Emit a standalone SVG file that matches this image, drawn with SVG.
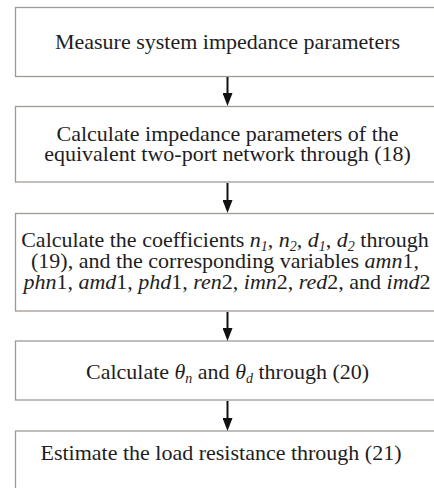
<svg xmlns="http://www.w3.org/2000/svg" width="434" height="488" viewBox="0 0 434 488">
<style>
.box{fill:#fff;stroke:#9e9a96;stroke-width:1.3}
.t{font-family:'Liberation Serif','Times New Roman','DejaVu Serif',serif;font-size:22px;fill:#1e1e1e;text-anchor:middle}
.i{font-style:italic}
.s{font-size:14px;font-style:italic}
.arrow{stroke:#111;stroke-width:2;fill:none;marker-end:url(#ah)}
</style>
<defs>
<marker id="ah" markerUnits="userSpaceOnUse" viewBox="0 0 13 10" markerWidth="13" markerHeight="10" refX="7" refY="5" orient="auto">
<path d="M0,0 L13,5 L0,10 Z" fill="#111"/>
</marker>
</defs>
<rect width="434" height="488" fill="#fff"/>
<g id="n1">
<rect class="box" x="15.5" y="7.5" width="426" height="69"/>
<text class="t" font-family="Liberation Serif, serif" x="227.5" y="49">Measure system impedance parameters</text>
</g>
<g id="n2">
<rect class="box" x="15.5" y="106.5" width="426" height="75.5"/>
<text class="t" font-family="Liberation Serif, serif" x="227.5" y="141">Calculate impedance parameters of the</text>
<text class="t" font-family="Liberation Serif, serif" x="227.5" y="161">equivalent two-port network through (18)</text>
</g>
<g id="n3">
<rect class="box" x="15.5" y="213.5" width="426" height="97.5"/>
<text class="t" font-family="Liberation Serif, serif" x="225" y="247">Calculate the coefficients <tspan class="i">n</tspan><tspan class="s" dy="4">1</tspan><tspan dy="-4">, </tspan><tspan class="i">n</tspan><tspan class="s" dy="4">2</tspan><tspan dy="-4">, </tspan><tspan class="i">d</tspan><tspan class="s" dy="4">1</tspan><tspan dy="-4">, </tspan><tspan class="i">d</tspan><tspan class="s" dy="4">2</tspan><tspan dy="-4"> through</tspan></text>
<text class="t" font-family="Liberation Serif, serif" x="225" y="268">(19), and the corresponding variables <tspan class="i">amn</tspan>1,</text>
<text class="t" font-family="Liberation Serif, serif" x="227" y="289"><tspan class="i">phn</tspan>1, <tspan class="i">amd</tspan>1, <tspan class="i">phd</tspan>1, <tspan class="i">ren</tspan>2, <tspan class="i">imn</tspan>2, <tspan class="i">red</tspan>2, and <tspan class="i">imd</tspan>2</text>
</g>
<g id="n4">
<rect class="box" x="15.5" y="341" width="426" height="59"/>
<text class="t" font-family="Liberation Serif, serif" x="227.5" y="379">Calculate <tspan class="i">θ</tspan><tspan class="s" dy="4">n</tspan><tspan dy="-4"> and </tspan><tspan class="i">θ</tspan><tspan class="s" dy="4">d</tspan><tspan dy="-4"> through (20)</tspan></text>
</g>
<g id="n5">
<rect class="box" x="15.5" y="431" width="426" height="70"/>
<text class="t" font-family="Liberation Serif, serif" x="221" y="460">Estimate the load resistance through (21)</text>
</g>
<g id="connectors">
<line class="arrow" x1="227.5" y1="77" x2="227.5" y2="100"/>
<line class="arrow" x1="227.5" y1="183" x2="227.5" y2="207"/>
<line class="arrow" x1="227.5" y1="312" x2="227.5" y2="335"/>
<line class="arrow" x1="227.5" y1="401" x2="227.5" y2="425"/>
</g>
</svg>
